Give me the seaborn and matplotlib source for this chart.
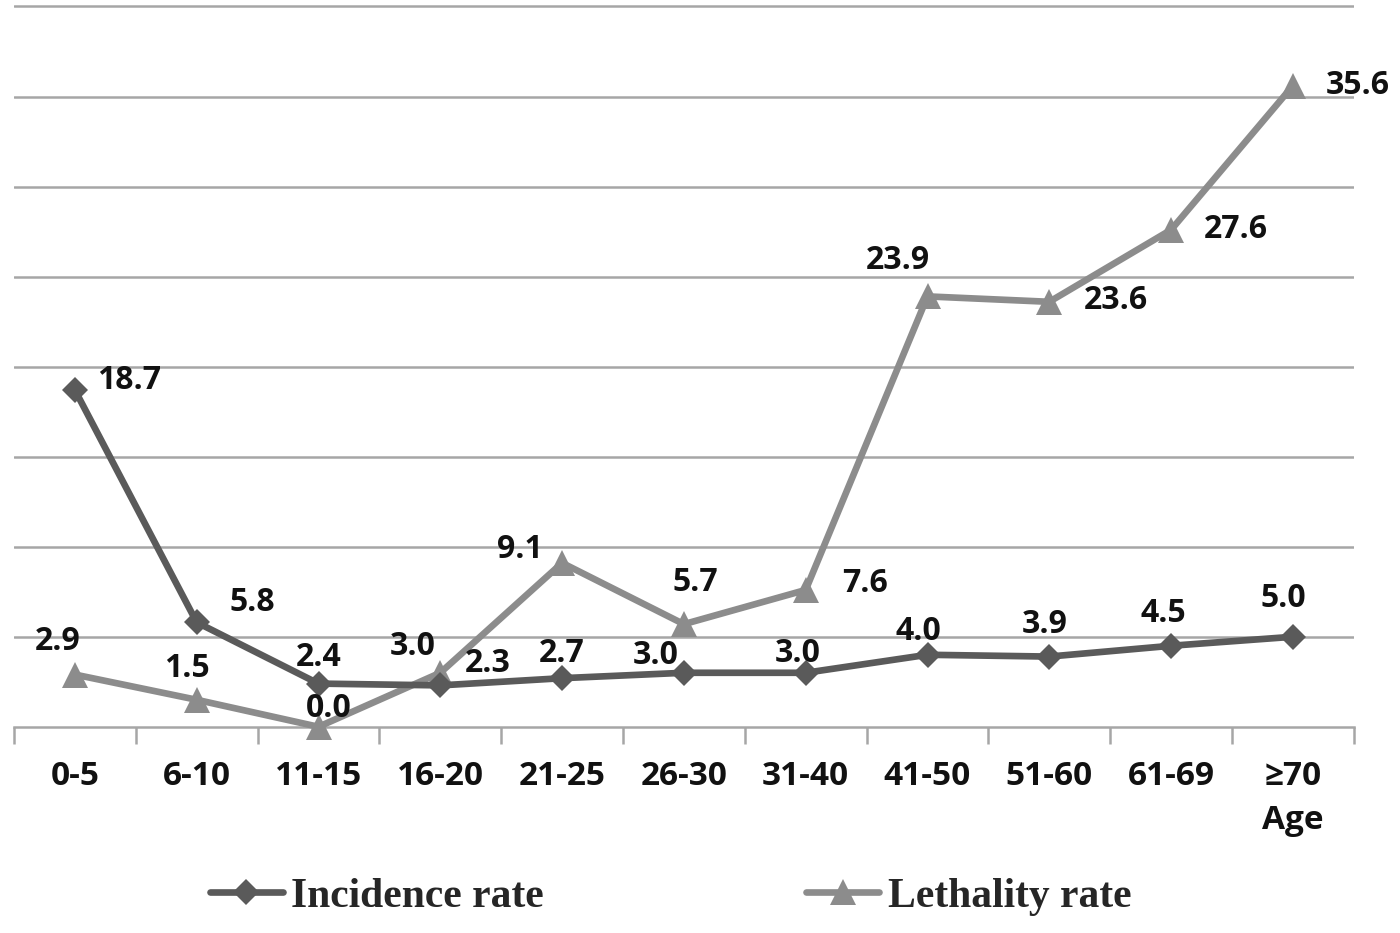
import numpy as np
import pandas as pd
import matplotlib
matplotlib.use("Agg")
import matplotlib.pyplot as plt
import seaborn as sns

# age groups and the two rates (%)
age_groups = ['0-5', '6-10', '11-15', '16-20', '21-25', '26-30',
              '31-40', '41-50', '51-60', '61-69', '≥70']
incidence = [18.7, 5.8, 2.4, 2.3, 2.7, 3.0, 3.0, 4.0, 3.9, 4.5, 5.0]
lethality = [2.9, 1.5, 0.0, 3.0, 9.1, 5.7, 7.6, 23.9, 23.6, 27.6, 35.6]

# label offsets in pixels (dx, dy) from each point
inc_offsets = [(54, 10), (56, 20), (0, 26), (47, 22), (0, 25), (-28, 17),
               (-8, 19), (-9, 23), (-5, 32), (-8, 32), (-10, 38)]
let_offsets = [(-17, 33), (-10, 31), (10, 18), (-28, 26), (-42, 13), (11, 42),
               (59, 6), (-30, 36), (67, 1), (65, 0), (65, 0)]

sns.set_theme(style="white")
plt.rcParams['font.family'] = ['Open Sans', 'DejaVu Sans']

df = pd.DataFrame({'age': age_groups, 'Incidence rate': incidence,
                   'Lethality rate': lethality})

fig, ax = plt.subplots(figsize=(14, 9.33), dpi=100)
fig.subplots_adjust(left=0.01, right=0.967, top=0.995, bottom=0.221)

inc_col = '#5a5a5a'
let_col = '#8c8c8c'

sns.lineplot(data=df, x='age', y='Lethality rate', ax=ax, color=let_col,
             marker='^', markersize=19, mec=let_col, mew=0, linewidth=4.8,
             label='Lethality rate', clip_on=False, zorder=3)
sns.lineplot(data=df, x='age', y='Incidence rate', ax=ax, color=inc_col,
             marker='D', markersize=13, mec=inc_col, mew=0, linewidth=4.8,
             label='Incidence rate', clip_on=False, zorder=4)

label_font = dict(fontsize=23, fontweight='bold', color='#111111',
                  ha='center', va='center')
for i, (v, off) in enumerate(zip(incidence, inc_offsets)):
    ax.annotate(f'{v:.1f}', (i, v), xytext=off, textcoords='offset pixels',
                zorder=6, **label_font)
for i, (v, off) in enumerate(zip(lethality, let_offsets)):
    ax.annotate(f'{v:.1f}', (i, v), xytext=off, textcoords='offset pixels',
                zorder=6, **label_font)

ax.set_xlim(-0.5, len(age_groups) - 0.5)
ax.set_ylim(0, 40.1)
ax.set_yticks(np.arange(5, 41, 5))
ax.set_yticklabels([])
ax.tick_params(axis='y', length=0)
ax.yaxis.grid(True, color='#a6a6a6', linewidth=1.8)
ax.set_axisbelow(True)

ax.set_xticks(range(len(age_groups)))
ax.set_xticklabels(age_groups, fontsize=24, fontweight='bold', color='#111111')
ax.set_xticks(np.arange(-0.5, len(age_groups), 1), minor=True)
ax.tick_params(axis='x', which='major', length=0, pad=24)
ax.tick_params(axis='x', which='minor', length=12, width=1.8,
               color='#a6a6a6', direction='out', bottom=True)

ax.set_xlabel('Age', fontsize=24, fontweight='bold', color='#111111')
ax.xaxis.set_label_coords(0.9545, -0.107)
ax.set_ylabel('')

for s in ['left', 'right', 'top']:
    ax.spines[s].set_visible(False)
ax.spines['bottom'].set_color('#a6a6a6')
ax.spines['bottom'].set_linewidth(1.8)

handles, labels = ax.get_legend_handles_labels()
ax.get_legend().remove()
order = [labels.index('Incidence rate'), labels.index('Lethality rate')]
fig.legend([handles[i] for i in order], [labels[i] for i in order],
           loc='center', bbox_to_anchor=(0.479, 0.039), ncol=2, frameon=False,
           prop={'family': 'Liberation Serif', 'weight': 'bold', 'size': 30},
           handlelength=1.75, handletextpad=0.2, columnspacing=6.3)

fig.savefig('out.png', dpi=100)
